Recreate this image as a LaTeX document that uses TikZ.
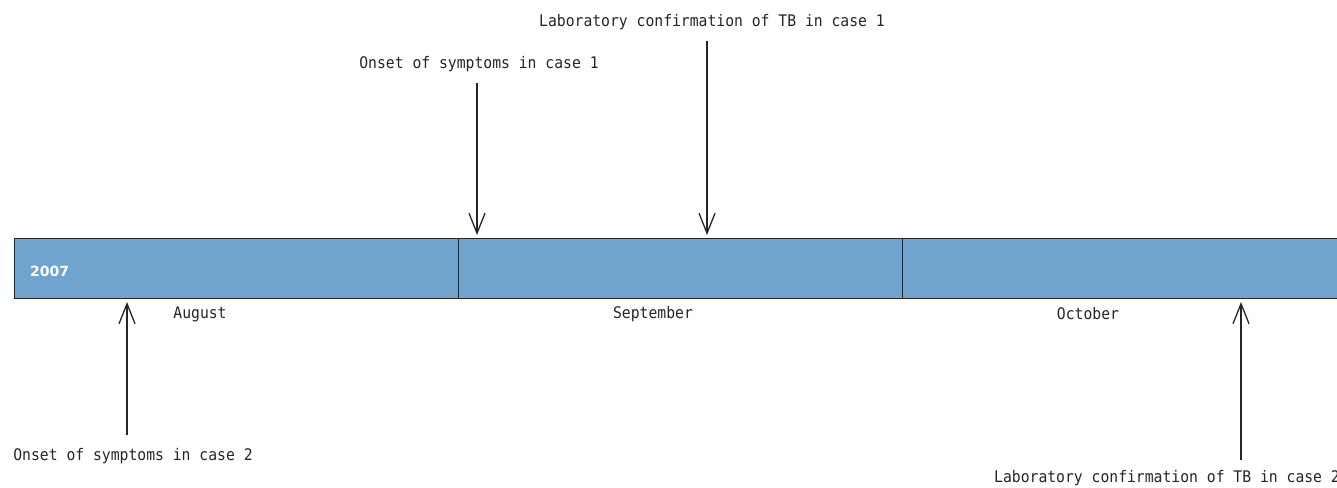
\documentclass[tikz,border=0pt]{standalone}
\usepackage{fontspec}
\setmainfont{DejaVu Sans}
\newfontfamily\labfont[FakeStretch=0.92]{DejaVu Sans Mono}
\usetikzlibrary{arrows.meta}
\definecolor{barblue}{RGB}{112,164,206}
\begin{document}
\begin{tikzpicture}[x=1pt,y=-1pt,
  lab/.style={font=\labfont\fontsize{16}{18}\selectfont, inner sep=0pt, text=black!85},
  evarrow/.style={line width=2pt, black!85, -{Straight Barb[length=20pt,width=16pt,line width=1.3pt]}},
  seg/.style={fill=barblue, draw=black!85, line width=1pt}]
\useasboundingbox (0,0) rectangle (1337,487);
\begin{scope}
\clip (0,0) rectangle (1337,487);
\node[seg, minimum width=444pt, minimum height=60pt, anchor=north west, inner sep=0pt] (aug) at (14,238) {};
\node[seg, minimum width=444pt, minimum height=60pt, anchor=north west, inner sep=0pt] (sep) at (458,238) {};
\node[seg, minimum width=444pt, minimum height=60pt, anchor=north west, inner sep=0pt] (oct) at (902,238) {};
\node[font=\bfseries\fontsize{14}{16}\selectfont, text=white, anchor=west, inner sep=0pt] (yr) at (30,271) {2007};
\node[lab] (maug) at (200,314) {August};
\node[lab] (msep) at (653,314) {September};
\node[lab] (moct) at (1088,314) {October};
\node[lab] (t1) at (479,64) {Onset of symptoms in case 1};
\node[lab] (t2) at (712,22) {Laboratory confirmation of TB in case 1};
\node[lab] (t3) at (133,456) {Onset of symptoms in case 2};
\node[lab, anchor=west] (t4) at (994,478) {Laboratory confirmation of TB in case 2};
\coordinate (a1s) at (477,83); \coordinate (a1e) at (477,235);
\coordinate (a2s) at (707,41); \coordinate (a2e) at (707,235);
\coordinate (a3s) at (127,435); \coordinate (a3e) at (127,302);
\coordinate (a4s) at (1241,460); \coordinate (a4e) at (1241,302);
\draw[evarrow] (a1s) -- (a1e);
\draw[evarrow] (a2s) -- (a2e);
\draw[evarrow] (a3s) -- (a3e);
\draw[evarrow] (a4s) -- (a4e);
\end{scope}
\end{tikzpicture}
\end{document}
